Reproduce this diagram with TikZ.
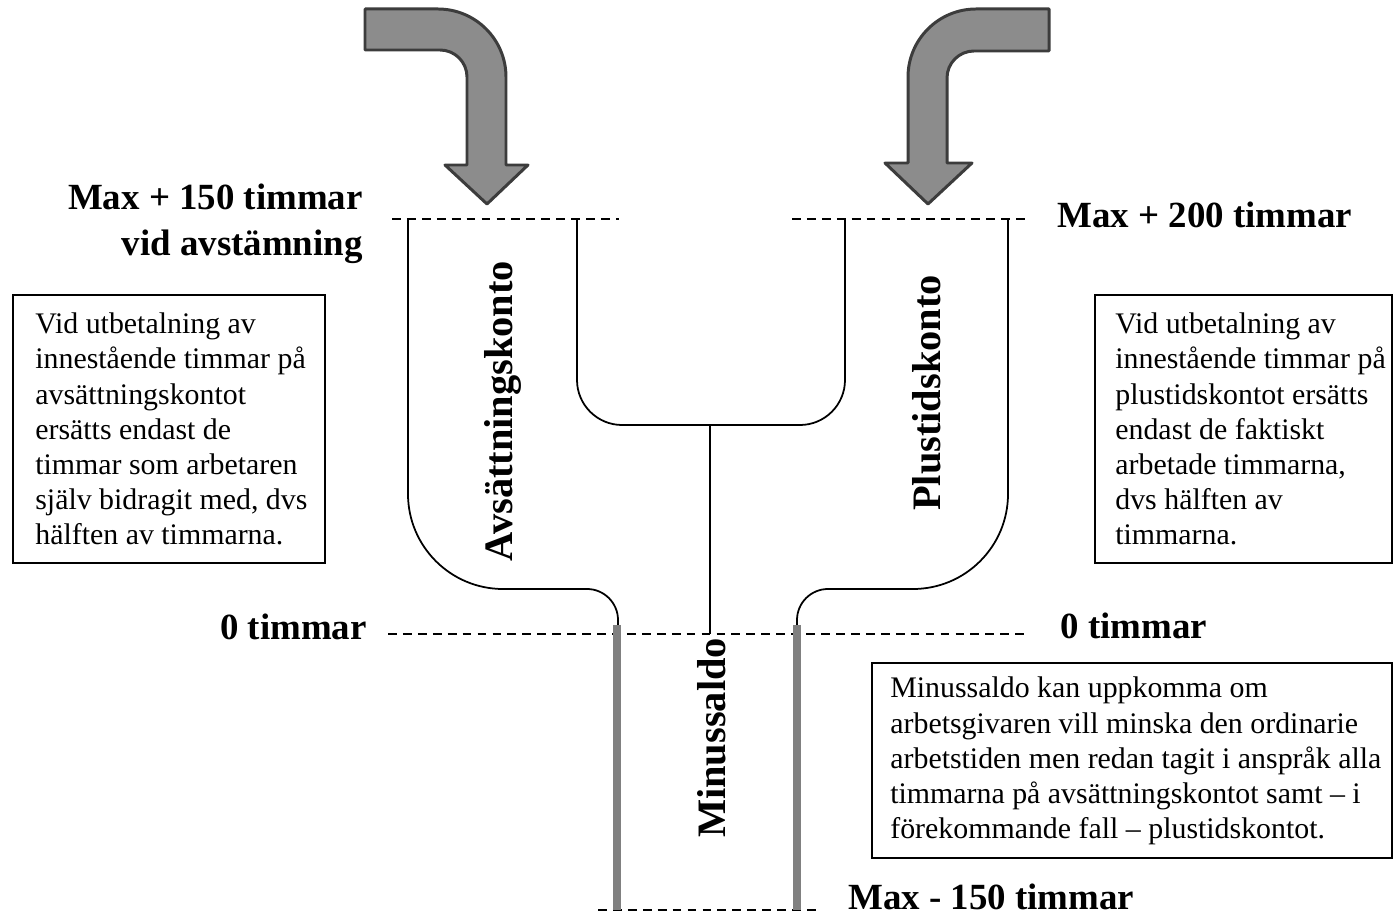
\documentclass[tikz,border=0pt]{standalone}
\usepackage{fontspec}
\setmainfont{Liberation Serif}
\definecolor{arrowfill}{HTML}{8C8C8C}
\definecolor{arrowline}{HTML}{3C3C3C}
\definecolor{floorgray}{HTML}{808080}
\tikzset{
  level/.style={dash pattern=on 5pt off 3.5pt,line width=1pt},
  wall/.style={line width=1pt},
  floor/.style={line width=4pt,draw=floorgray},
  bigarrow/.style={fill=arrowfill,draw=arrowline,line width=1.7pt,line join=round},
  heading/.style={font=\fontsize{21}{26}\selectfont\bfseries,inner sep=0pt},
  account/.style={font=\fontsize{23}{27}\selectfont\bfseries,rotate=90,inner sep=0pt,anchor=base},
  note/.style={font=\fontsize{17}{20}\selectfont,align=left,inner sep=0pt,anchor=west},
  frame/.style={line width=1.2pt}
}
\begin{document}
\begin{tikzpicture}[x=0.02cm,y=-0.02cm]
\useasboundingbox (0,0) rectangle (1393,918);
% inflow arrows
\draw[bigarrow] (365,9) -- (438,9) .. controls (475.5,9) and (506,39.5) .. (506,77) -- (506,165) -- (528,165) -- (487,204) -- (445,165) -- (467,165) -- (467,77) .. controls (467,62.1) and (454.9,50) .. (440,50) -- (365,50) -- cycle;
\draw[bigarrow] (1049,9) -- (976,9) .. controls (938.5,9) and (908,39.5) .. (908,77) -- (908,163) -- (885,163) -- (928,204) -- (972,163) -- (947,163) -- (947,78) .. controls (947,63.1) and (959.1,51) .. (974,51) -- (1049,51) -- cycle;
% levels
\draw[level] (392,219) -- (619,219);
\draw[level] (792,219) -- (1030,219);
\draw[level] (388,634) -- (1030,634);
\draw[level] (598,910) -- (820,910);
% walls
\draw[wall] (408,219) -- (408,494) .. controls (408,546.4) and (450.6,589) .. (503,589) -- (587,589) .. controls (604.1,589) and (618,602.9) .. (618,620) -- (618,634);
\draw[wall] (1008,219) -- (1008,494) .. controls (1008,546.4) and (965.4,589) .. (913,589) -- (828,589) .. controls (810.9,589) and (797,602.9) .. (797,620) -- (797,634);
\draw[wall] (577,219) -- (577,380) .. controls (577,404.8) and (597.2,425) .. (622,425) -- (800,425) .. controls (824.8,425) and (845,404.8) .. (845,380) -- (845,219);
\draw[wall] (710,425) -- (710,634);
\draw[floor] (617,625) -- (617,910);
\draw[floor] (797,625) -- (797,910);
% labels
\node[heading,anchor=base east](max150)at(363,210){Max + 150 timmar};
\node[heading,anchor=base east](vid)at(363,256){vid avstämning};
\node[heading,anchor=base west](max200)at(1057,228){Max + 200 timmar};
\node[heading,anchor=base east](zeroL)at(367,640){0 timmar};
\node[heading,anchor=base west](zeroR)at(1060,639){0 timmar};
\node[heading,anchor=base west](min150)at(848,909){Max - 150 timmar};
\node[account](avs)at(512,411){Avsättningskonto};
\node[account](plus)at(940,393){Plustidskonto};
\node[account](minus)at(725,738){Minussaldo};
% notes
\draw[frame] (13,295) rectangle (325,563);
\node[note](noteL)at(35,429){Vid utbetalning av\\innestående timmar på\\avsättningskontot\\ersätts endast de\\timmar som arbetaren\\själv bidragit med, dvs\\hälften av timmarna.};
\draw[frame] (1095,295) rectangle (1392,563);
\node[note](noteR)at(1115,429){Vid utbetalning av\\innestående timmar på\\plustidskontot ersätts\\endast de faktiskt\\arbetade timmarna,\\dvs hälften av\\timmarna.};
\draw[frame] (872,663) rectangle (1392,858);
\node[note](noteM)at(890,761){Minussaldo kan uppkomma om\\arbetsgivaren vill minska den ordinarie\\arbetstiden men redan tagit i anspråk alla\\timmarna på avsättningskontot samt -- i\\förekommande fall -- plustidskontot.};
\end{tikzpicture}
\end{document}
